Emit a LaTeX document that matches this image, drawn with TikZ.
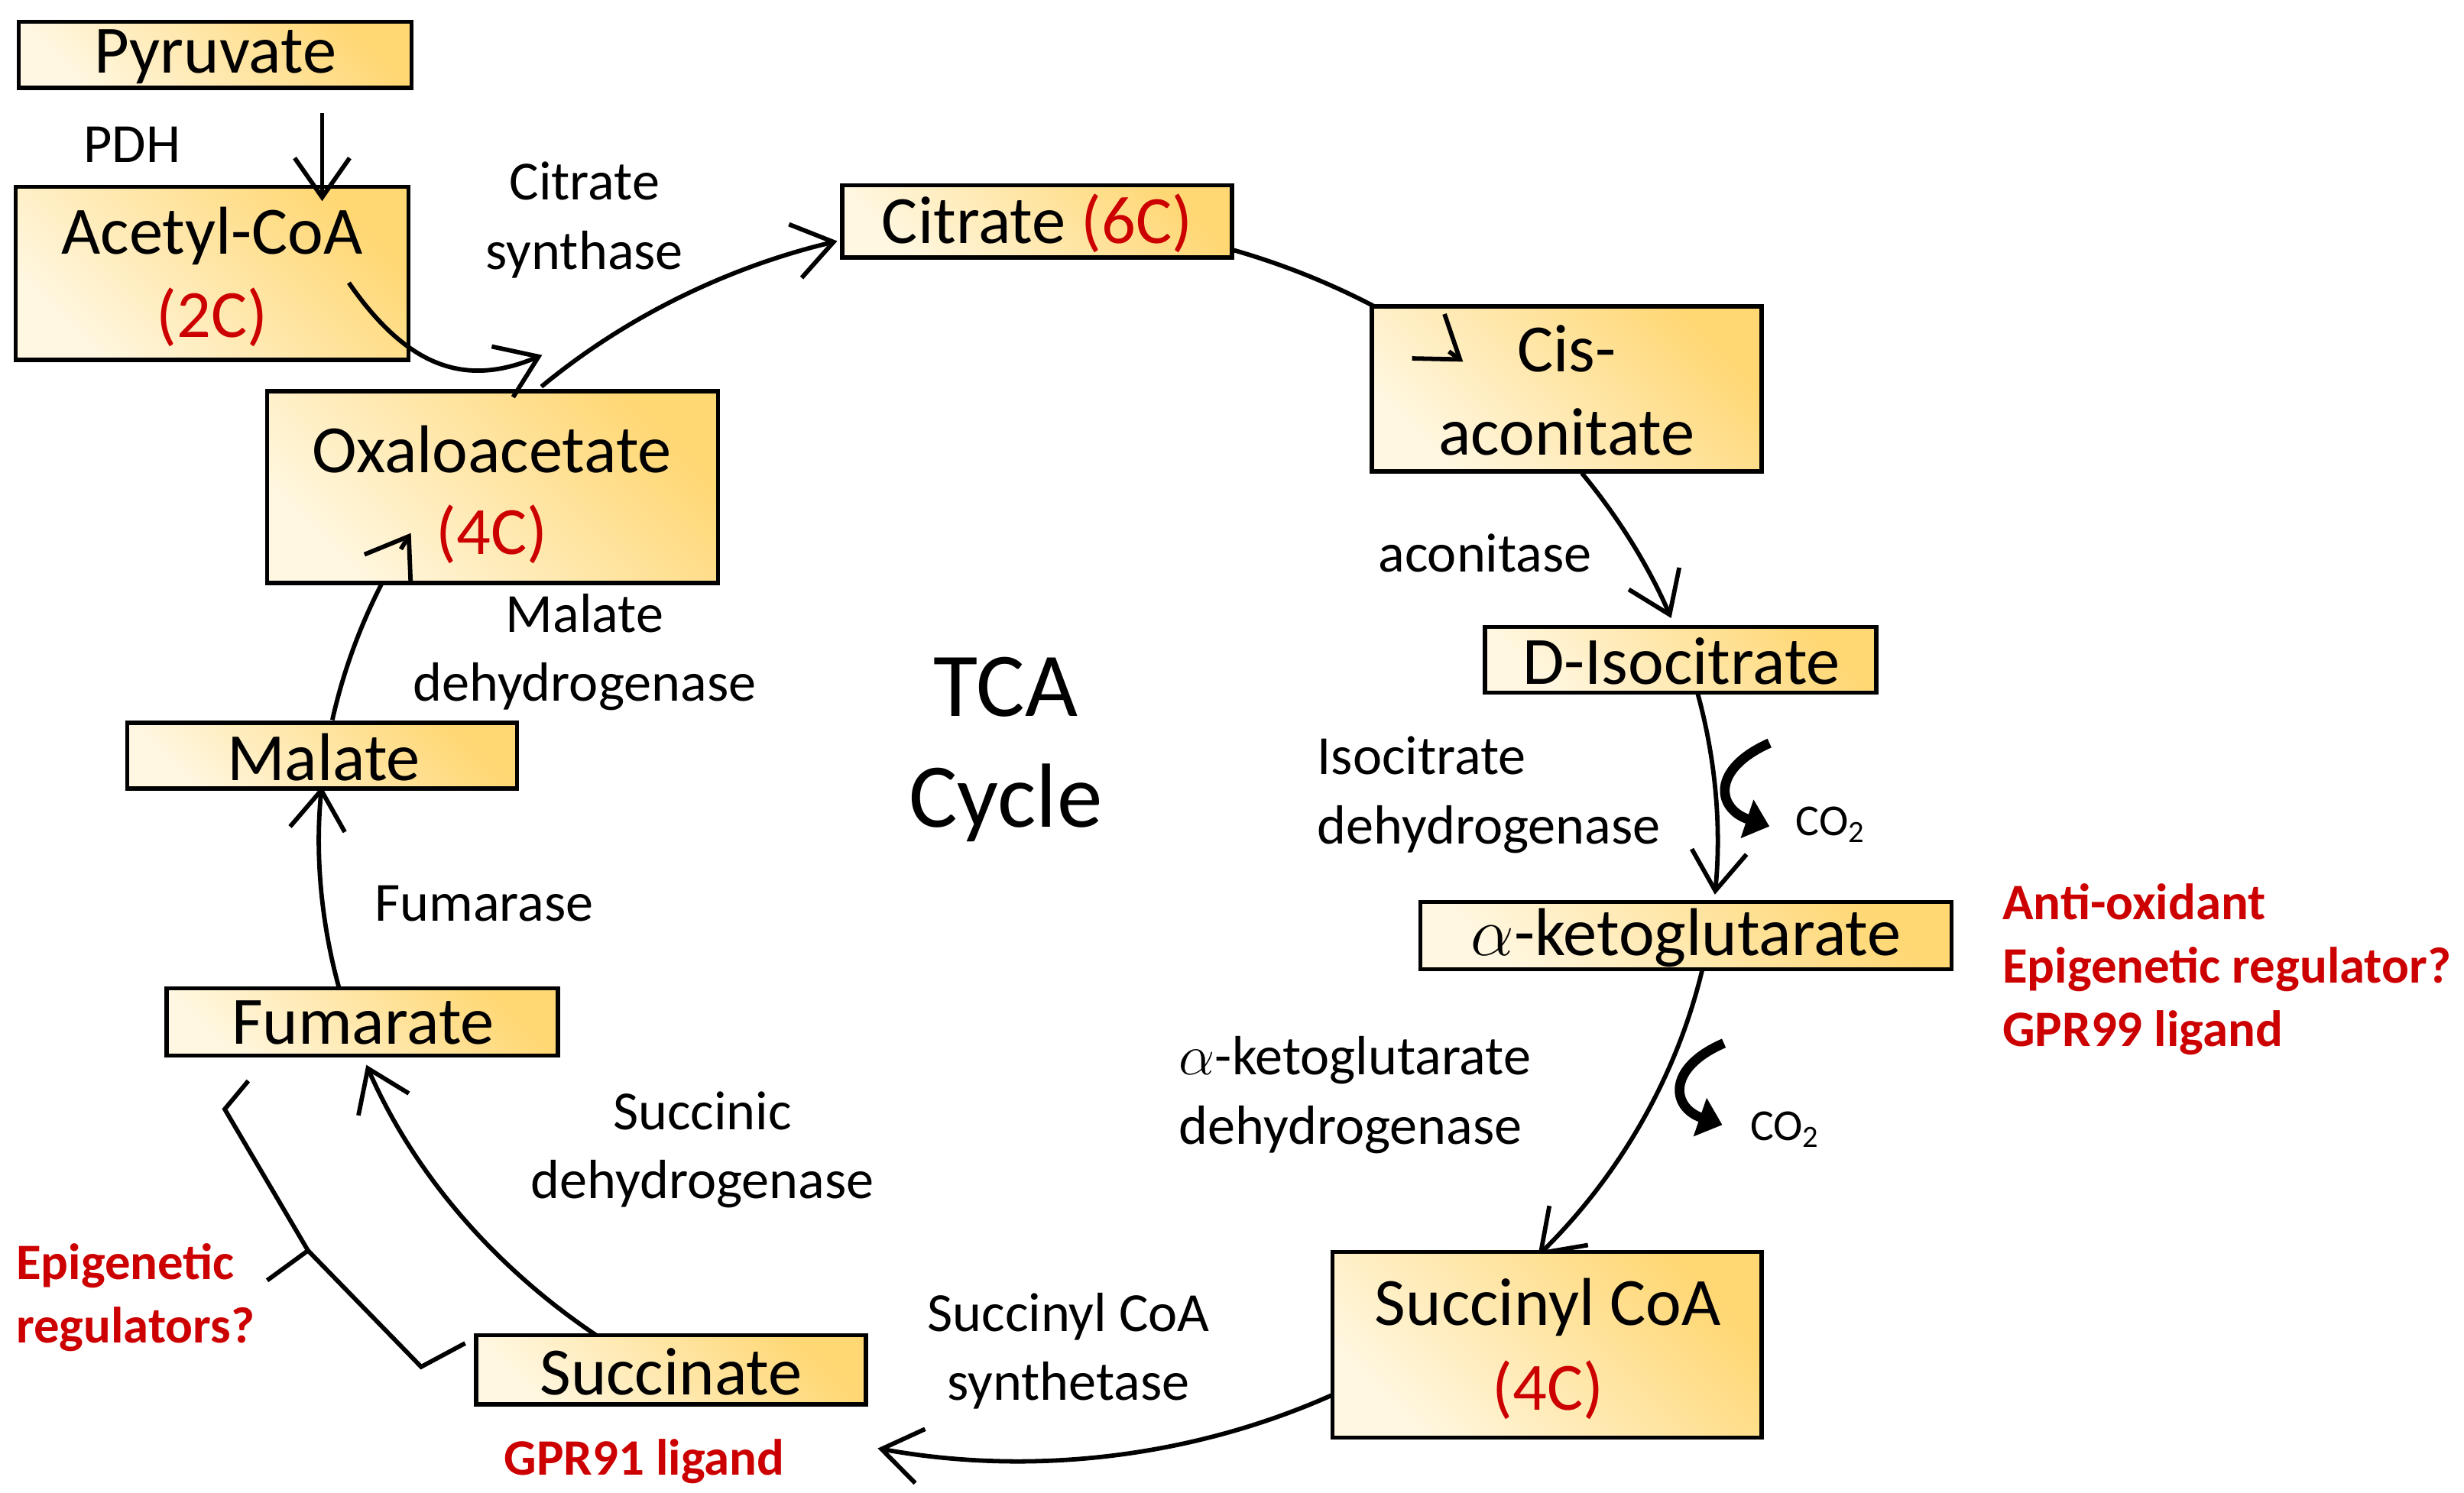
\documentclass[tikz,border=0pt]{standalone}
\usepackage{fontspec}
\setmainfont{Carlito}
\usetikzlibrary{fit,arrows.meta}
\definecolor{boxlight}{RGB}{255,247,225}
\definecolor{boxdark}{RGB}{255,215,115}
\definecolor{dred}{RGB}{204,0,0}
\begin{document}
\begin{tikzpicture}[x=0.02cm,y=-0.02cm,
  box/.style={draw, line width=1.5pt, inner sep=0pt, shade, shading=axis, top color=boxlight, bottom color=boxdark, shading angle=135},
  big/.style={font=\fontsize{24.5}{28}\selectfont, inner sep=0pt},
  lab/.style={font=\fontsize{20}{25}\selectfont, align=center, inner sep=0pt},
  labl/.style={font=\fontsize{20}{25}\selectfont, align=left, inner sep=0pt, anchor=west},
  redt/.style={font=\fontsize{18.5}{23}\selectfont\bfseries, text=dred, align=left, inner sep=0pt, anchor=west},
  cyc/.style={line width=1.6pt},
  arr/.style={cyc, -{Straight Barb[length=5mm,width=7mm,line width=1.6pt]}},
  co/.style={line width=3.5pt, -{Triangle[length=3mm,width=5mm]}}
]
\useasboundingbox (0,0) rectangle (1568,950);
\def\cx{648}\def\cy{535}
\foreach \n/\a in {s1/-133,s2/-72.5,s3/-36.3,s4/-13.8,s5/12,s6/63.1,s7/124.9,s8/166.2,s9/191.2,t2/-52,t9/208}
  \coordinate (\n) at ({\cx+445*cos(\a)},{\cy+395*sin(\a)});
% cycle arcs (under boxes)
\draw[arr] (s1) arc[start angle=-133,end angle=-105,x radius=445,y radius=395];
\draw[cyc] (s2) arc[start angle=-72.5,end angle=-52,x radius=445,y radius=395];
\draw[arr] (s3) arc[start angle=-36.3,end angle=-21,x radius=445,y radius=395];
\draw[arr] (s4) arc[start angle=-13.8,end angle=5,x radius=445,y radius=395];
\draw[arr] (s5) arc[start angle=12,end angle=42,x radius=445,y radius=395];
\draw[arr] (s6) arc[start angle=63.1,end angle=101.6,x radius=445,y radius=395];
\draw[arr] (s7) arc[start angle=124.9,end angle=158.8,x radius=445,y radius=395];
\draw[arr] (s8) arc[start angle=166.2,end angle=185,x radius=445,y radius=395];
\draw[cyc] (s9) arc[start angle=191.2,end angle=208,x radius=445,y radius=395];

% boxes
\node[box, fit={(12,14)(262,56)}] (pyr) {};
\node[big] at (137,36) {Pyruvate};
\node[box, fit={(10,119)(260,229)}] (acoa) {};
\node[big] at (135,150) {Acetyl-CoA};
\node[big, text=dred] at (135,202) {(2C)};
\node[box, fit={(536,118)(784,164)}] (cit) {};
\node[big] at (660,142) {Citrate \textcolor{dred}{(6C)}};
\node[box, fit={(873,195)(1121,300)}] (cis) {};
\node[big] at (997,222) {Cis-};
\node[big] at (997,275) {aconitate};
\node[box, fit={(945,399)(1194,441)}] (iso) {};
\node[big] at (1070,421) {D-Isocitrate};
\node[box, fit={(904,574)(1242,617)}] (akg) {};
\node[big] at (1073,597) {$\alpha$-ketoglutarate};
\node[box, fit={(848,797)(1121,915)}] (scoa) {};
\node[big] at (985,832) {Succinyl CoA};
\node[big, text=dred] at (985,885) {(4C)};
\node[box, fit={(303,850)(551,894)}] (succ) {};
\node[big] at (427,873) {Succinate};
\node[box, fit={(106,629)(355,672)}] (fum) {};
\node[big] at (231,651) {Fumarate};
\node[box, fit={(81,460)(329,502)}] (mal) {};
\node[big] at (206,482) {Malate};
\node[box, fit={(170,249)(457,371)}] (oxa) {};
\node[big] at (313,286) {Oxaloacetate};
\node[big, text=dred] at (313,340) {(4C)};

% tips inside boxes
\draw[arr] (t2) arc[start angle=-52,end angle=-50.5,x radius=445,y radius=395];
\draw[arr] (t9) arc[start angle=208,end angle=209.7,x radius=445,y radius=395];

% pyruvate -> acetyl-CoA
\coordinate (p1) at (205,72);
\coordinate (p2) at (205,128);
\draw[arr] (p1) -- (p2);
% acetyl-CoA -> cycle
\coordinate (a1) at (222,180);
\coordinate (a2) at (345,226);
\draw[arr] (a1) .. controls (262,238) and (300,245) .. (a2);

% CO2 arrows
\coordinate (c1a) at (1126,473);
\coordinate (c1b) at (1126,526);
\draw[co] (c1a) .. controls (1088,490) and (1093,515) .. (c1b);
\node[font=\fontsize{16}{18}\selectfont] at (1165,525) {CO\textsubscript{2}};
\coordinate (c2a) at (1097,664);
\coordinate (c2b) at (1096,716);
\draw[co] (c2a) .. controls (1060,680) and (1064,705) .. (c2b);
\node[font=\fontsize{16}{18}\selectfont] at (1136,719) {CO\textsubscript{2}};

% bracket
\coordinate (b1) at (158,688);
\coordinate (b2) at (296,855);
\coordinate (bt) at (170,815);
\draw[line width=1.6pt, line join=miter] (b1) -- (143,706) -- (196,796) -- (bt);
\draw[line width=1.6pt] (196,796) -- (268,870) -- (b2);

% labels
\node[lab] at (84,92) {PDH};
\node[lab] at (372,140) {Citrate\\synthase};
\node[lab] at (945,352) {aconitase};
\node[labl] at (838,506) {Isocitrate\\dehydrogenase};
\node[labl] at (750,697) {$\alpha$-ketoglutarate\\dehydrogenase};
\node[lab] at (680,860) {Succinyl CoA\\synthetase};
\node[lab] at (447,732) {Succinic\\dehydrogenase};
\node[lab] at (308,575) {Fumarase};
\node[lab] at (372,415) {Malate\\dehydrogenase};
\node[font=\fontsize{33}{40}\selectfont, align=center, inner sep=0pt] at (640,477) {TCA\\Cycle};

% red annotations
\node[redt] at (1274,617) {Anti-oxidant\\Epigenetic regulator?\\GPR99 ligand};
\node[redt] at (10,826) {Epigenetic\\regulators?};
\node[redt, anchor=center] at (410,930) {GPR91 ligand};
\end{tikzpicture}
\end{document}
